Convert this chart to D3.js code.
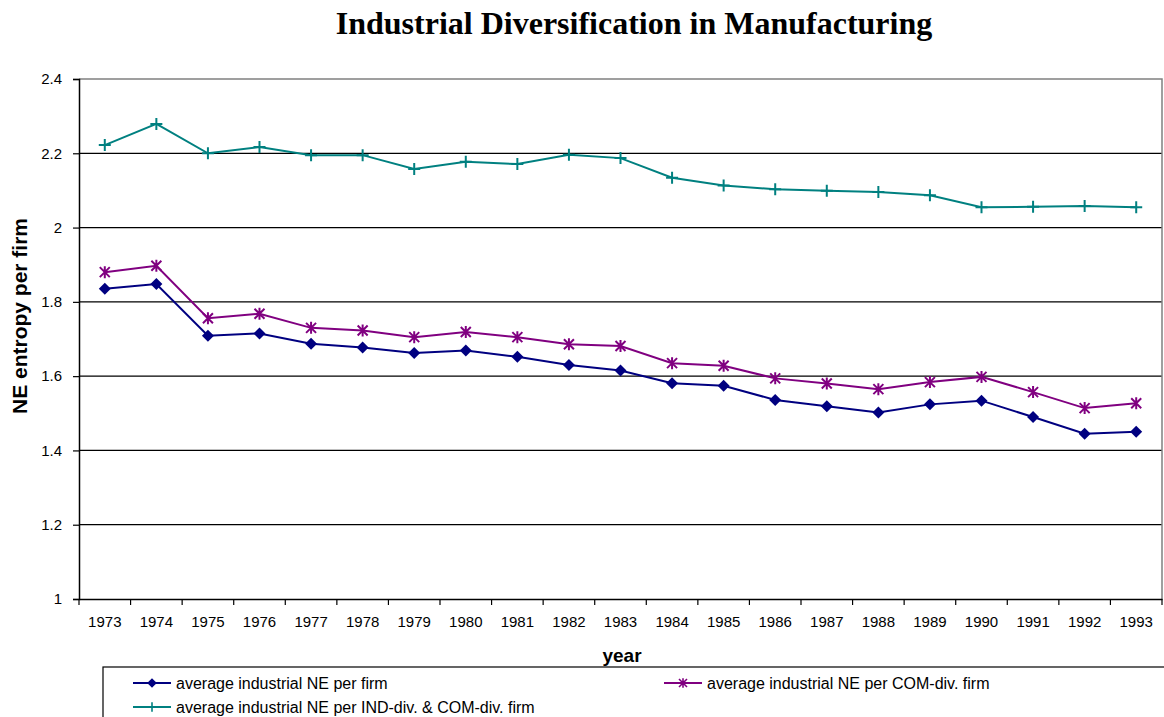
<!DOCTYPE html>
<html>
<head>
<meta charset="utf-8">
<script src="https://cdn.jsdelivr.net/npm/d3@7"></script>
<style>
body { margin: 0; background: #fff; }
svg { display: block; }
</style>
</head>
<body>
<svg id="chart" width="1164" height="717"></svg>
<script>
// values
var years = ['1973', '1974', '1975', '1976', '1977', '1978', '1979', '1980', '1981', '1982', '1983',
    '1984', '1985', '1986', '1987', '1988', '1989', '1990', '1991', '1992', '1993'];
var allFirms = [1.835, 1.848, 1.709, 1.715, 1.687, 1.677, 1.662, 1.669, 1.652, 1.630, 1.615,
    1.581, 1.574, 1.536, 1.519, 1.502, 1.524, 1.534, 1.490, 1.445, 1.450];
var comDiv = [1.880, 1.897, 1.756, 1.768, 1.730, 1.723, 1.705, 1.719, 1.705, 1.686, 1.681,
    1.635, 1.628, 1.594, 1.580, 1.565, 1.584, 1.598, 1.557, 1.514, 1.527];
var indComDiv = [2.222, 2.279, 2.200, 2.217, 2.195, 2.195, 2.158, 2.177, 2.171, 2.196, 2.187,
    2.134, 2.113, 2.103, 2.099, 2.096, 2.087, 2.055, 2.056, 2.058, 2.055];
var yTicks = [1, 1.2, 1.4, 1.6, 1.8, 2, 2.2, 2.4];

var series = [
    {name: 'average industrial NE per firm', values: allFirms, color: '#000080', marker: 'diamond'},
    {name: 'average industrial NE per COM-div. firm', values: comDiv, color: '#800080', marker: 'star'},
    {name: 'average industrial NE per IND-div. & COM-div. firm', values: indComDiv, color: '#008080', marker: 'plus'}
];

var plotLeft = 79, plotRight = 1162, plotTop = 79, plotBottom = 599;
var svg = d3.select('#chart');

var x = d3.scaleBand().domain(years).range([plotLeft, plotRight]);
var y = d3.scaleLinear().domain([1, 2.4]).range([plotBottom, plotTop]);

// title
svg.append('text')
    .attr('x', 634).attr('y', 34)
    .attr('text-anchor', 'middle')
    .style('font-family', '"Liberation Serif", "Times New Roman", serif')
    .style('font-weight', 'bold')
    .style('font-size', '32px')
    .text('Industrial Diversification in Manufacturing');

// gridlines
svg.append('g').selectAll('line')
    .data(yTicks.slice(1, -1))
    .join('line')
    .attr('x1', plotLeft).attr('x2', plotRight)
    .attr('y1', function(d) { return y(d); })
    .attr('y2', function(d) { return y(d); })
    .attr('stroke', '#000').attr('stroke-width', 1.2);

// plot area border (top and right, gray)
svg.append('path')
    .attr('d', 'M' + plotLeft + ',' + y(2.4) + 'H' + plotRight + 'V' + plotBottom)
    .attr('fill', 'none').attr('stroke', '#808080').attr('stroke-width', 1.5);

// y axis
var yAxis = svg.append('g')
    .attr('transform', 'translate(' + plotLeft + ',0)')
    .call(d3.axisLeft(y).tickValues(yTicks).tickSize(6).tickPadding(11)
        .tickFormat(function(d) { return String(+d.toFixed(1)); }));
yAxis.select('.domain').attr('stroke-width', 1.5);
yAxis.selectAll('.tick line').attr('stroke-width', 1.2);
yAxis.selectAll('text')
    .style('font-family', '"Liberation Sans", Arial, sans-serif')
    .style('font-size', '15px').attr('fill', '#000');

// x axis, ticks between categories
var xAxis = svg.append('g')
    .attr('transform', 'translate(0,' + plotBottom + ')')
    .call(d3.axisBottom(x).tickSize(0).tickPadding(17));
xAxis.select('.domain').attr('stroke-width', 1.5);
xAxis.selectAll('text')
    .style('font-family', '"Liberation Sans", Arial, sans-serif')
    .style('font-size', '15px').attr('fill', '#000');
xAxis.selectAll('line.sep')
    .data(years.concat(['end']))
    .join('line')
    .attr('class', 'sep')
    .attr('x1', function(d, i) { return plotLeft + i * x.bandwidth(); })
    .attr('x2', function(d, i) { return plotLeft + i * x.bandwidth(); })
    .attr('y1', 0).attr('y2', 6)
    .attr('stroke', '#000').attr('stroke-width', 1.2);

// axis titles
svg.append('text')
    .attr('transform', 'translate(27,316) rotate(-90)')
    .attr('text-anchor', 'middle')
    .style('font-family', '"Liberation Sans", Arial, sans-serif')
    .style('font-weight', 'bold').style('font-size', '21px')
    .text('NE entropy per firm');
svg.append('text')
    .attr('x', 622).attr('y', 662)
    .attr('text-anchor', 'middle')
    .style('font-family', '"Liberation Sans", Arial, sans-serif')
    .style('font-weight', 'bold').style('font-size', '19px')
    .text('year');

function drawMarker(g, type, color) {
    if (type === 'diamond') {
        g.append('path').attr('d', 'M0,-6L6,0L0,6L-6,0Z').attr('fill', color);
    } else if (type === 'star') {
        g.append('path').attr('d', 'M-5,-5L5,5M-5,5L5,-5M0,-6V6')
            .attr('stroke', color).attr('stroke-width', 2).attr('fill', 'none');
    } else {
        g.append('path').attr('d', 'M-6,0H6M0,-6V6')
            .attr('stroke', color).attr('stroke-width', 2).attr('fill', 'none');
    }
}

var line = d3.line()
    .x(function(d, i) { return x(years[i]) + x.bandwidth() / 2; })
    .y(function(d) { return y(d); });

series.forEach(function(s) {
    svg.append('path')
        .attr('d', line(s.values))
        .attr('fill', 'none').attr('stroke', s.color).attr('stroke-width', 2);
    s.values.forEach(function(v, i) {
        var g = svg.append('g')
            .attr('transform', 'translate(' + (x(years[i]) + x.bandwidth() / 2) + ',' + y(v) + ')');
        drawMarker(g, s.marker, s.color);
    });
});

// legend
svg.append('rect')
    .attr('x', 103).attr('y', 667).attr('width', 1100).attr('height', 80)
    .attr('fill', 'none').attr('stroke', '#000').attr('stroke-width', 1.2);
var legendPos = [[133, 683], [664, 683], [133, 707]];
series.forEach(function(s, i) {
    var p = legendPos[i];
    var g = svg.append('g').attr('transform', 'translate(' + p[0] + ',' + p[1] + ')');
    g.append('line').attr('x1', 0).attr('x2', 38).attr('stroke', s.color).attr('stroke-width', 2);
    var m = g.append('g').attr('transform', 'translate(19,0) scale(0.8)');
    drawMarker(m, s.marker, s.color);
    g.append('text')
        .attr('x', 43).attr('y', 5.5)
        .style('font-family', '"Liberation Sans", Arial, sans-serif')
        .style('font-size', '16px')
        .text(s.name);
});
</script>
</body>
</html>
